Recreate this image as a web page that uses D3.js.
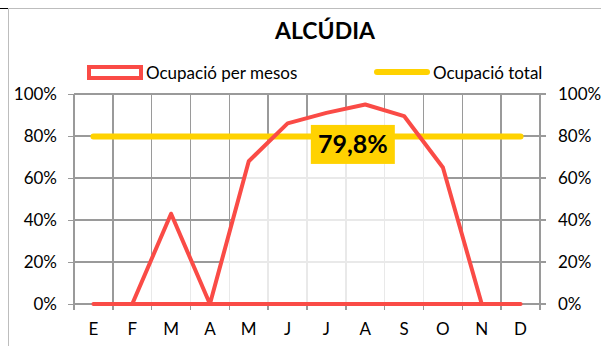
<!DOCTYPE html>
<html><head><meta charset="utf-8">
<script src="https://cdn.jsdelivr.net/npm/d3@7"></script>
<style>
body{margin:0;background:#fff}
text{font-family:Lato,"Noto Sans",sans-serif;fill:#000}
</style>
</head><body>
<svg id="chart" width="601" height="346"></svg>
<script>
// Monthly occupancy for Alcúdia (percent) and the yearly total
const months = ["E","F","M","A","M","J","J","A","S","O","N","D"];
const monthly = [0, 0, 43, 0, 68, 86, 91, 95, 89.5, 65, 0, 0];
const total = 79.8;
const yTicks = [0, 20, 40, 60, 80, 100];
const seriesNames = ["Ocupació per mesos", "Ocupació total"];
const title = "ALCÚDIA";

const RED = "#fa4b46", GOLD = "#ffd200", GRID = "#9a9a9a";
const svg = d3.select("#chart");
svg.append("rect").attr("width", 601).attr("height", 346).attr("fill", "#fff");

// outer frame
svg.append("path").attr("d", "M8.5,346V8.5H601").attr("fill", "none").attr("stroke", "#bdbdbd");
svg.append("path").attr("d", "M0,8.5H8").attr("stroke", "#000");

const plot = {left: 74, right: 540, top: 94, bottom: 304};
const x = d3.scaleBand().domain(d3.range(months.length)).range([plot.left, plot.right]).paddingInner(0).paddingOuter(0);
const y = d3.scaleLinear().domain([0, 100]).range([plot.bottom, plot.top]);
const cx = i => x(i) + x.bandwidth() / 2;
const pct = d => d + "%";

// gridlines + ticks via axes
const gl = svg.append("g").attr("class", "grid");
gl.append("g").attr("transform", `translate(${plot.left},0)`)
  .call(d3.axisLeft(y).tickValues(yTicks).tickSize(6).tickFormat(""))
  .call(g => g.select(".domain").remove());
gl.selectAll("line.h").data(yTicks).join("line").attr("class", "h")
  .attr("x1", plot.left).attr("x2", plot.right + 6)
  .attr("y1", d => y(d)).attr("y2", d => y(d));
const bounds = d3.range(months.length + 1).map(i => plot.left + i * x.bandwidth());
gl.selectAll("line.v").data(bounds).join("line").attr("class", "v")
  .attr("x1", d => d).attr("x2", d => d)
  .attr("y1", plot.top).attr("y2", plot.bottom + 6);
gl.selectAll("line").attr("stroke", GRID).attr("stroke-width", 1.5).attr("shape-rendering", "crispEdges");

// tick labels
svg.append("g").selectAll("text").data(yTicks).join("text")
  .attr("x", plot.left - 17).attr("y", d => y(d)).attr("dy", "0.36em")
  .attr("text-anchor", "end").attr("font-size", 17).text(pct);
svg.append("g").selectAll("text").data(yTicks).join("text")
  .attr("x", plot.right + 18).attr("y", d => y(d)).attr("dy", "0.36em")
  .attr("text-anchor", "start").attr("font-size", 17).text(pct);
svg.append("g").selectAll("text").data(months).join("text")
  .attr("x", (d, i) => cx(i)).attr("y", 335)
  .attr("text-anchor", "middle").attr("font-size", 17).text(d => d);

// monthly occupancy area
const area = d3.area().x((d, i) => cx(i)).y0(y(0)).y1(d => y(d));
svg.append("path").datum(monthly).attr("d", area)
  .attr("fill", "#fff").attr("fill-opacity", 0.78).attr("stroke", "none");

// total occupancy line
const totalLine = d3.line().x(d => cx(d)).y(() => y(total));
svg.append("path").datum([0, months.length - 1]).attr("d", totalLine)
  .attr("fill", "none").attr("stroke", GOLD).attr("stroke-width", 6).attr("stroke-linecap", "round");

svg.append("path").datum(monthly).attr("d", area)
  .attr("fill", "none").attr("stroke", RED).attr("stroke-width", 4).attr("stroke-linejoin", "round");

// value label for the total
const lx = x(7) + 7, ly = y(total) + 8;
svg.append("rect").attr("x", lx - 42).attr("y", ly - 19.5).attr("width", 84).attr("height", 39).attr("fill", GOLD);
svg.append("text").attr("x", lx).attr("y", ly).attr("dy", "0.36em").attr("text-anchor", "middle")
  .attr("font-size", 25).attr("font-weight", "bold").text(total.toFixed(1).replace(".", ",") + "%");

// title
svg.append("text").attr("x", 325).attr("y", 39).attr("text-anchor", "middle")
  .attr("font-size", 23).attr("font-weight", "bold").text(title);

// legend
svg.append("rect").attr("x", 89).attr("y", 67).attr("width", 52).attr("height", 11)
  .attr("fill", "#fff").attr("stroke", RED).attr("stroke-width", 4);
svg.append("text").attr("x", 146).attr("y", 79).attr("font-size", 17).text(seriesNames[0]);
svg.append("line").attr("x1", 377).attr("x2", 427).attr("y1", 72).attr("y2", 72)
  .attr("stroke", GOLD).attr("stroke-width", 6).attr("stroke-linecap", "round");
svg.append("text").attr("x", 433).attr("y", 79).attr("font-size", 17).text(seriesNames[1]);
</script>
</body></html>
